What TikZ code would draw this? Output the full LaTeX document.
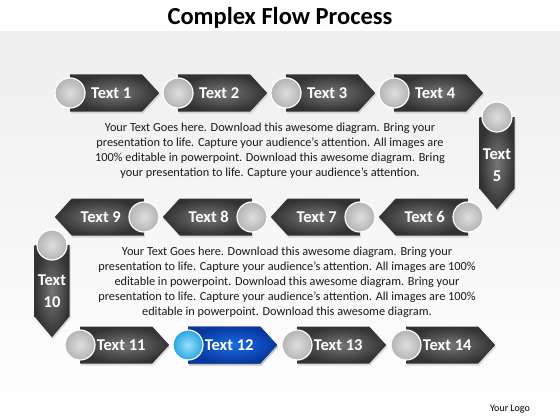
\documentclass[tikz,border=0pt]{standalone}
\usepackage{fontspec}
\setmainfont{Carlito}
\usetikzlibrary{shapes.symbols, positioning, shadows}
\definecolor{stepdark}{RGB}{50,50,50}
\definecolor{steplight}{RGB}{118,118,118}
\definecolor{bluedark}{RGB}{8,55,160}
\definecolor{bluelight}{RGB}{25,110,225}
\definecolor{ballin}{RGB}{222,222,222}
\definecolor{ballout}{RGB}{180,180,180}
\definecolor{cyanin}{RGB}{150,225,250}
\definecolor{cyanout}{RGB}{40,165,225}
\definecolor{bandgray}{RGB}{238,238,238}

\tikzset{
  steparrow/.style={signal, signal pointer angle=95, minimum width=89pt, minimum height=37pt,
    inner sep=0pt, shading=radial, inner color=steplight, outer color=stepdark,
    text=white, font=\fontsize{16.5}{19}\selectfont\bfseries,
    drop shadow={opacity=0.25, shadow xshift=1pt, shadow yshift=-2pt}},
  steparrowdown/.style={steparrow, signal to=south, signal pointer angle=80,
    minimum width=35pt, minimum height=88pt, align=center},
  stepball/.style={circle, minimum size=30pt, inner sep=0pt, draw=white, line width=1.2pt,
    shading=radial, inner color=ballin, outer color=ballout},
  bodytext/.style={align=center, font=\fontsize{12.3}{15}\selectfont, text=black!90}
}

\begin{document}
\begin{tikzpicture}[x=1pt, y=-1pt]
\useasboundingbox (0,0) rectangle (560,420);
\fill[white] (0,0) rectangle (560,420);
\shade[top color=bandgray, bottom color=white] (0,32) rectangle (560,420);

\node[font=\fontsize{24.5}{28}\selectfont\bfseries] (title) at (280,18) {Complex Flow Process};

\foreach \i/\x in {1/70, 2/178, 3/286, 4/394} {
  \node[steparrow, signal to=east, anchor=west] (a\i) at (\x,93) {\hspace{10pt}Text \i};
  \node[stepball] (c\i) at (a\i.west) {};
}

\node[steparrowdown, anchor=north] (a5) at (497,117) {\rule{0pt}{36pt}Text\\[3pt]5};
\node[stepball] (c5) at (a5.north) {};

\foreach \i/\x in {6/468, 7/360, 8/252, 9/144} {
  \node[steparrow, signal to=west, anchor=east] (a\i) at (\x,217) {Text \i\kern14pt};
  \node[stepball] (c\i) at (a\i.east) {};
}

\node[steparrowdown, anchor=north] (a10) at (52,245) {\rule{0pt}{32pt}Text\\[3pt]10};
\node[stepball] (c10) at (a10.north) {};

\foreach \i/\x in {11/80, 12/188, 13/297, 14/406} {
  \node[steparrow, signal to=east, anchor=west] (a\i) at (\x,345) {\hspace{10pt}Text \i};
  \node[stepball] (c\i) at (a\i.west) {};
}
\node[steparrow, signal to=east, anchor=west, inner color=bluelight, outer color=bluedark] (a12) at (188,345) {\hspace{10pt}Text 12};
\node[stepball, inner color=cyanin, outer color=cyanout] (c12) at (a12.west) {};

\node[bodytext] (para1) at (270,151) {Your Text Goes here. Download this awesome diagram. Bring your\\
presentation to life. Capture your audience’s attention. All images are\\
100\% editable in powerpoint. Download this awesome diagram. Bring\\
your presentation to life. Capture your audience’s attention.};

\node[bodytext] (para2) at (287,282) {Your Text Goes here. Download this awesome diagram. Bring your\\
presentation to life. Capture your audience’s attention. All images are 100\%\\
editable in powerpoint. Download this awesome diagram. Bring your\\
presentation to life. Capture your audience’s attention. All images are 100\%\\
editable in powerpoint. Download this awesome diagram.};

\node[font=\fontsize{10}{12}\selectfont] (logo) at (510,409) {Your Logo};
\end{tikzpicture}
\end{document}
